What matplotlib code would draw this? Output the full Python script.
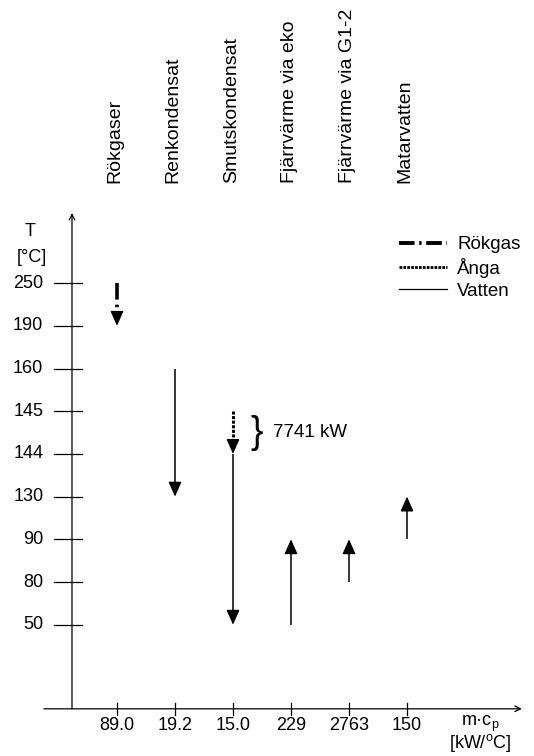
import matplotlib
matplotlib.use("Agg")
import matplotlib.pyplot as plt
from matplotlib.lines import Line2D

plt.rcParams['font.family'] = ['Liberation Sans', 'DejaVu Sans']

# temperature levels (schematic, evenly spaced, top to bottom)
levels = [250, 190, 160, 145, 144, 130, 90, 80, 50]

# streams and their m*cp values
streams = ["Rökgaser", "Renkondensat", "Smutskondensat",
           "Fjärrvärme via eko", "Fjärrvärme via G1-2", "Matarvatten"]
mcp_labels = ["89.0", "19.2", "15.0", "229", "2763", "150"]

# arrow segments: stream index, start temp, end temp, medium
seg_stream = [0, 1, 2, 2, 3, 4, 5]
seg_from = [250, 160, 145, 144, 50, 80, 90]
seg_to = [190, 130, 144, 50, 90, 90, 130]
seg_medium = ["Rökgas", "Vatten", "Ånga", "Vatten", "Vatten", "Vatten", "Vatten"]

duty_label = "7741 kW"
duty_stream = 2
duty_from, duty_to = 145, 144


def ypos(t):
    return len(levels) - 1 - levels.index(t)


styles = {
    "Rökgas": dict(lw=2.6, ls=(0, (4.6, 1.4, 0.7, 1.4))),
    "Ånga": dict(lw=2.2, ls=(0, (1.0, 0.5))),
    "Vatten": dict(lw=1.1, ls="-"),
}

fig = plt.figure(figsize=(5.34, 7.56), dpi=100)
ax = fig.add_axes([0, 0, 1, 1])
ax.set_xlim(-117 / 58, (534 - 117) / 58)
ax.set_ylim((624.7 - 756) / 42.7, 624.7 / 42.7)
ax.axis("off")

x_axis_y = -1.97
y_axis_x = -0.776

# axes with open arrowheads
ax.annotate("", xy=(y_axis_x, 9.64), xytext=(y_axis_x, x_axis_y),
            arrowprops=dict(arrowstyle="->", lw=0.9, color="k",
                            shrinkA=0, shrinkB=0, mutation_scale=10))
ax.annotate("", xy=(6.98, x_axis_y), xytext=(-1.26, x_axis_y),
            arrowprops=dict(arrowstyle="->", lw=0.9, color="k",
                            shrinkA=0, shrinkB=0, mutation_scale=10))

# y ticks and labels
for t in levels:
    y = ypos(t)
    ax.plot([-1.086, -0.603], [y, y], color="k", lw=0.9)
    ax.text(-1.27, y, str(t), ha="right", va="center", fontsize=13)

ax.text(-1.5, 9.22, "T", ha="center", va="center", fontsize=13)
ax.text(-1.47, 8.59, "[°C]", ha="center", va="center", fontsize=13)

# x ticks, labels and stream names
for i, (name, lab) in enumerate(zip(streams, mcp_labels)):
    ax.plot([i, i], [-1.84, -2.12], color="k", lw=0.9)
    ax.text(i, -2.17, lab, ha="center", va="top", fontsize=13)
    ax.text(i - 0.03, 10.34, name, ha="center", va="bottom",
            rotation=90, fontsize=14)

ax.text(6.26, -2.08, "m·c$_\\mathregular{p}$", ha="center", va="top", fontsize=13)
ax.text(6.26, -3.02, "[kW/$^\\mathregular{o}$C]", ha="center", va="bottom", fontsize=13)

# stream arrows
head = 0.28
for s, t0, t1, med in zip(seg_stream, seg_from, seg_to, seg_medium):
    y0, y1 = ypos(t0), ypos(t1)
    sign = 1 if y1 > y0 else -1
    st = styles[med]
    ax.plot([s, s], [y0, y1 - sign * head * 0.8], color="k",
            lw=st["lw"], linestyle=st["ls"], solid_capstyle="butt",
            dash_capstyle="butt")
    ax.annotate("", xy=(s, y1), xytext=(s, y1 - sign * head),
                arrowprops=dict(arrowstyle="-|>,head_length=0.45,head_width=0.2",
                                lw=1.0, color="k", shrinkA=0, shrinkB=0,
                                mutation_scale=20))

# duty brace and label
ymid = (ypos(duty_from) + ypos(duty_to)) / 2
ax.text(duty_stream + 0.40, ymid, "}", ha="center", va="center", fontsize=27)
ax.text(duty_stream + 0.69, ymid, duty_label, ha="left", va="center", fontsize=13.5)

# legend
handles = [
    Line2D([], [], color="k", lw=2.8, linestyle=(0, (4.0, 1.2, 0.6, 1.2)),
           dash_capstyle="butt"),
    Line2D([], [], color="k", lw=2.0, linestyle=(0, (1.0, 0.4)),
           dash_capstyle="butt"),
    Line2D([], [], color="k", lw=0.9),
]
ax.legend(handles, ["Rökgas", "Ånga", "Vatten"], loc="upper left",
          bbox_to_anchor=(399 / 534, 1 - 236 / 756), frameon=False,
          fontsize=13.5, handlelength=2.55, handletextpad=0.55,
          labelspacing=0.25, borderpad=0, borderaxespad=0)

fig.savefig("out.png", dpi=100)
